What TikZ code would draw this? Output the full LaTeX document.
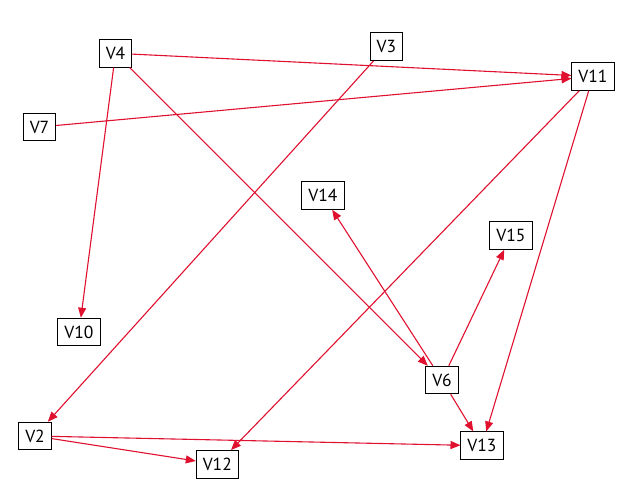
\documentclass[tikz,border=0pt]{standalone}
\usepackage{fontspec}
\setmainfont{PT Sans}
\usetikzlibrary{arrows.meta}
\definecolor{edgered}{HTML}{E0102F}
\begin{document}
\begin{tikzpicture}[x=1pt,y=-1pt,
  vbox/.style={draw=black,line width=1pt,fill=white,minimum height=27.5pt,inner xsep=6.5pt,inner ysep=0pt,font=\fontsize{17.5}{20}\selectfont},
  edge/.style={draw=edgered,line width=1.1pt,-{Triangle[length=10pt,width=8pt]}}]
\useasboundingbox (0,0) rectangle (624,487);
\node[vbox] (V4) at (115.5,53.3) {V4};
\node[vbox] (V3) at (386.3,46.7) {V3};
\node[vbox] (V11) at (593,76.5) {V11};
\node[vbox] (V7) at (39.5,127) {V7};
\node[vbox] (V14) at (323,195.5) {V14};
\node[vbox] (V15) at (511,235.5) {V15};
\node[vbox] (V10) at (79,332) {V10};
\node[vbox] (V6) at (442,380) {V6};
\node[vbox] (V2) at (35,436) {V2};
\node[vbox] (V13) at (482,445.7) {V13};
\node[vbox] (V12) at (217.3,464.3) {V12};
\draw[edge] (V4) -- (V11);
\draw[edge] (V4) -- (V10);
\draw[edge] (V4) -- (V6);
\draw[edge] (V3) -- (V2);
\draw[edge] (V7) -- (V11);
\draw[edge] (V11) -- (V12);
\draw[edge] (V11) -- (V13);
\draw[edge] (V6) -- (V14);
\draw[edge] (V6) -- (V15);
\draw[edge] (V6) -- (V13);
\draw[edge] (V2) -- (V13);
\draw[edge] (V2) -- (V12);
\end{tikzpicture}
\end{document}
